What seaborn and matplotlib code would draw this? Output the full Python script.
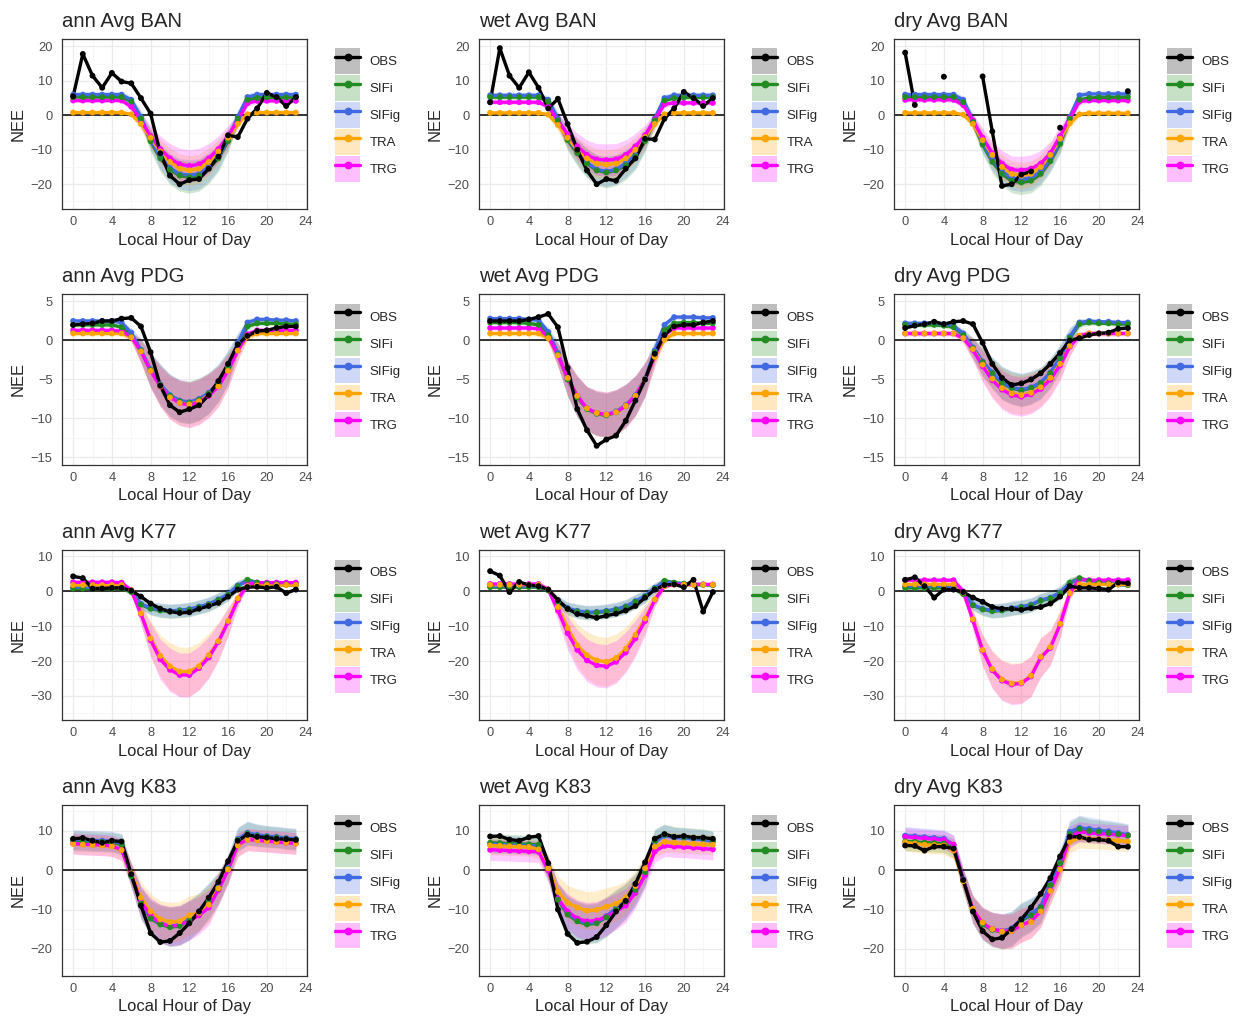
import numpy as np
import pandas as pd
import matplotlib
matplotlib.use("Agg")
import matplotlib.pyplot as plt
import seaborn as sns
from matplotlib.patches import Rectangle
from matplotlib.lines import Line2D
from matplotlib.legend_handler import HandlerTuple
from matplotlib.colors import to_rgba

nan = np.nan
HOURS = list(range(24))
SERIES = ["OBS", "SIFi", "SIFig", "TRA", "TRG"]
MODELS = ["SIFi", "SIFig", "TRA", "TRG"]
SEASONS = ["ann", "wet", "dry"]
SITES = ["BAN", "PDG", "K77", "K83"]
COLORS = {"OBS": "black", "SIFi": "#228B22", "SIFig": "#4169E1", "TRA": "#FFA500", "TRG": "#FF00FF"}
X_TICKS = [0, 4, 8, 12, 16, 20, 24]
Y_TICKS = {"BAN": [-20, -10, 0, 10, 20], "PDG": [-15, -10, -5, 0, 5],
           "K77": [-30, -20, -10, 0, 10], "K83": [-20, -10, 0, 10]}
Y_LIMS = {"BAN": (-27.2, 22.3), "PDG": (-15.9, 5.96), "K77": (-36.9, 12.0), "K83": (-26.8, 16.6)}

# ---------------- BAN ----------------
ann_BAN_OBS = [5.5, 17.8, 11.5, 8.0, 12.3, 9.8, 9.3, 5.0, 0.5, -11.0, -17.5, -20.0, -18.8, -18.5, -15.5, -12.0, -5.8, -6.3, -1.0, 2.0, 6.5, 5.3, 2.7, 5.3]
ann_BAN_SIFi = [5.3, 5.3, 5.3, 5.3, 5.3, 5.3, 4.0, -1.0, -7.5, -12.5, -15.8, -17.5, -18.0, -17.5, -15.5, -12.5, -7.5, -1.0, 4.5, 5.0, 5.2, 5.2, 5.2, 5.3]
ann_BAN_SIFig = [6.0, 6.0, 6.0, 6.0, 6.0, 6.0, 4.5, -0.5, -7.0, -12.0, -15.3, -17.0, -17.4, -17.0, -15.0, -12.0, -7.0, -0.5, 5.3, 6.0, 6.0, 6.0, 6.0, 6.0]
ann_BAN_TRA = [0.8, 0.8, 0.8, 0.8, 0.8, 0.8, 0.3, -2.5, -6.5, -10.5, -13.5, -15.5, -16.0, -15.5, -13.5, -10.5, -6.5, -2.5, 0.3, 0.8, 0.8, 0.8, 0.8, 0.8]
ann_BAN_TRG = [4.3, 4.3, 4.3, 4.3, 4.3, 4.3, 2.5, -1.5, -6.0, -9.8, -12.5, -14.2, -14.7, -14.2, -12.5, -9.8, -6.0, -1.5, 3.5, 4.2, 4.2, 4.2, 4.2, 4.2]
sd_ann_BAN_SIFi = [0.8, 0.8, 0.8, 0.8, 0.8, 0.8, 1.0, 2.0, 3.0, 3.8, 4.3, 4.5, 4.6, 4.5, 4.3, 3.8, 3.0, 2.0, 1.0, 0.8, 0.8, 0.8, 0.8, 0.8]
sd_ann_BAN_SIFig = [0.9, 0.9, 0.9, 0.9, 0.9, 0.9, 1.1, 2.0, 3.0, 3.7, 4.2, 4.4, 4.5, 4.4, 4.2, 3.7, 3.0, 2.0, 1.1, 0.9, 0.9, 0.9, 0.9, 0.9]
sd_ann_BAN_TRA = [0.4, 0.4, 0.4, 0.4, 0.4, 0.4, 0.6, 1.8, 2.8, 3.5, 4.0, 4.2, 4.3, 4.2, 4.0, 3.5, 2.8, 1.8, 0.6, 0.4, 0.4, 0.4, 0.4, 0.4]
sd_ann_BAN_TRG = [0.6, 0.6, 0.6, 0.6, 0.6, 0.6, 1.0, 2.0, 3.0, 3.8, 4.3, 4.6, 4.7, 4.6, 4.3, 3.8, 3.0, 2.0, 1.0, 0.6, 0.6, 0.6, 0.6, 0.6]

wet_BAN_OBS = [3.8, 19.5, 11.5, 8.0, 12.5, 8.0, 2.0, 4.8, -2.5, -10.0, -16.0, -20.0, -18.5, -19.0, -15.5, -12.5, -6.8, -7.0, -1.0, 2.0, 6.8, 5.0, 2.7, 5.0]
wet_BAN_SIFi = [5.3, 5.3, 5.3, 5.3, 5.3, 5.3, 4.0, -1.5, -7.2, -11.0, -14.0, -16.0, -16.6, -16.0, -14.5, -12.0, -7.5, -1.5, 4.3, 5.0, 5.2, 5.2, 5.2, 5.3]
wet_BAN_SIFig = [5.8, 5.8, 5.8, 5.8, 5.8, 5.8, 4.5, -1.0, -6.8, -10.5, -13.7, -15.7, -16.3, -15.7, -14.0, -11.5, -7.0, -1.0, 5.0, 5.8, 5.8, 5.8, 5.8, 5.8]
wet_BAN_TRA = [0.7, 0.7, 0.7, 0.7, 0.7, 0.7, 0.2, -2.8, -6.5, -10.0, -12.5, -14.0, -14.3, -14.0, -12.5, -10.0, -6.3, -2.5, 0.3, 0.7, 0.7, 0.7, 0.7, 0.7]
wet_BAN_TRG = [3.8, 3.8, 3.8, 3.8, 3.8, 3.8, 2.5, -1.5, -5.5, -9.0, -11.5, -12.8, -13.0, -12.8, -11.5, -9.0, -5.8, -1.2, 3.2, 3.6, 3.6, 3.6, 3.6, 3.6]
sd_wet_BAN_SIFi = [0.8, 0.8, 0.8, 0.8, 0.8, 0.8, 1.0, 2.0, 3.0, 3.8, 4.2, 4.4, 4.5, 4.4, 4.2, 3.8, 3.0, 2.0, 1.0, 0.8, 0.8, 0.8, 0.8, 0.8]
sd_wet_BAN_SIFig = [0.9, 0.9, 0.9, 0.9, 0.9, 0.9, 1.1, 2.0, 3.0, 3.7, 4.1, 4.3, 4.4, 4.3, 4.1, 3.7, 3.0, 2.0, 1.1, 0.9, 0.9, 0.9, 0.9, 0.9]
sd_wet_BAN_TRA = [0.4, 0.4, 0.4, 0.4, 0.4, 0.4, 0.6, 1.8, 2.8, 3.5, 4.0, 4.2, 4.3, 4.2, 4.0, 3.5, 2.8, 1.8, 0.6, 0.4, 0.4, 0.4, 0.4, 0.4]
sd_wet_BAN_TRG = [0.6, 0.6, 0.6, 0.6, 0.6, 0.6, 1.0, 2.0, 3.0, 3.8, 4.3, 4.6, 4.7, 4.6, 4.3, 3.8, 3.0, 2.0, 1.0, 0.6, 0.6, 0.6, 0.6, 0.6]

dry_BAN_OBS = [18.2, 3.0, nan, nan, 11.2, nan, nan, nan, 11.3, -4.7, -20.5, -20.0, -17.2, -16.3, nan, nan, -3.6, nan, nan, nan, nan, nan, nan, 7.0]
dry_BAN_SIFi = [5.3, 5.3, 5.3, 5.3, 5.3, 5.3, 3.8, -2.0, -8.5, -13.5, -17.0, -19.0, -19.5, -19.0, -17.0, -13.3, -8.3, -1.0, 4.5, 5.0, 5.2, 5.2, 5.2, 5.3]
dry_BAN_SIFig = [6.0, 6.0, 6.0, 6.0, 6.0, 6.0, 4.5, -1.5, -8.0, -12.8, -16.3, -18.2, -18.6, -18.2, -16.3, -12.8, -7.8, -0.5, 5.8, 6.2, 6.2, 6.2, 6.2, 6.2]
dry_BAN_TRA = [0.7, 0.7, 0.7, 0.7, 0.7, 0.7, 0.2, -2.5, -7.2, -11.5, -15.0, -17.0, -17.5, -17.0, -15.0, -11.5, -6.8, -2.3, 0.3, 0.6, 0.6, 0.6, 0.6, 0.6]
dry_BAN_TRG = [4.5, 4.5, 4.5, 4.5, 4.5, 4.5, 3.0, -1.5, -6.5, -11.0, -14.0, -15.8, -16.0, -15.5, -14.0, -11.0, -6.0, -0.8, 4.0, 4.3, 4.3, 4.3, 4.3, 4.3]
sd_dry_BAN_SIFi = [0.8, 0.8, 0.8, 0.8, 0.8, 0.8, 1.0, 2.0, 2.8, 3.2, 3.4, 3.5, 3.5, 3.5, 3.4, 3.2, 2.8, 2.0, 1.0, 0.8, 0.8, 0.8, 0.8, 0.8]
sd_dry_BAN_SIFig = [0.9, 0.9, 0.9, 0.9, 0.9, 0.9, 1.1, 2.0, 2.8, 3.2, 3.4, 3.5, 3.5, 3.5, 3.4, 3.2, 2.8, 2.0, 1.1, 0.9, 0.9, 0.9, 0.9, 0.9]
sd_dry_BAN_TRA = [0.4, 0.4, 0.4, 0.4, 0.4, 0.4, 0.6, 1.8, 2.7, 3.2, 3.5, 3.7, 3.8, 3.7, 3.5, 3.2, 2.7, 1.8, 0.6, 0.4, 0.4, 0.4, 0.4, 0.4]
sd_dry_BAN_TRG = [0.6, 0.6, 0.6, 0.6, 0.6, 0.6, 1.0, 2.0, 2.8, 3.4, 3.8, 4.0, 4.1, 4.0, 3.8, 3.4, 2.8, 2.0, 1.0, 0.6, 0.6, 0.6, 0.6, 0.6]

# ---------------- PDG ----------------
ann_PDG_OBS = [2.0, 2.1, 2.2, 2.5, 2.5, 2.8, 2.9, 1.8, -1.5, -5.8, -8.3, -9.2, -8.8, -8.3, -7.0, -5.2, -3.0, -0.5, 0.6, 1.2, 1.3, 1.6, 1.8, 1.8]
ann_PDG_SIFi = [2.0, 2.0, 2.0, 2.0, 2.0, 1.7, 0.5, -1.3, -3.8, -5.7, -7.1, -7.8, -8.0, -7.6, -6.8, -5.5, -3.5, -0.5, 1.8, 2.2, 2.2, 2.2, 2.1, 2.1]
ann_PDG_SIFig = [2.5, 2.5, 2.5, 2.5, 2.5, 2.3, 1.0, -1.2, -3.7, -5.6, -7.0, -7.7, -7.9, -7.5, -6.7, -5.4, -3.3, -0.3, 2.3, 2.7, 2.7, 2.6, 2.6, 2.5]
ann_PDG_TRA = [0.9, 0.9, 0.9, 0.9, 0.9, 0.9, 0.4, -1.4, -3.9, -5.9, -7.3, -8.0, -8.2, -7.8, -7.0, -5.9, -3.9, -1.3, 0.5, 0.9, 0.9, 0.9, 0.9, 0.9]
ann_PDG_TRG = [1.3, 1.3, 1.3, 1.3, 1.3, 1.2, 0.5, -1.4, -3.9, -5.9, -7.3, -8.0, -8.3, -7.9, -7.1, -5.9, -3.9, -1.3, 0.8, 1.3, 1.3, 1.3, 1.3, 1.3]
sd_ann_PDG_SIFi = [0.3, 0.3, 0.3, 0.3, 0.3, 0.3, 0.6, 1.5, 2.2, 2.6, 2.7, 2.7, 2.7, 2.7, 2.6, 2.4, 2.1, 1.3, 0.5, 0.3, 0.3, 0.3, 0.3, 0.3]
sd_ann_PDG_SIFig = [0.3, 0.3, 0.3, 0.3, 0.3, 0.3, 0.6, 1.5, 2.2, 2.6, 2.7, 2.7, 2.7, 2.7, 2.6, 2.4, 2.1, 1.3, 0.5, 0.3, 0.3, 0.3, 0.3, 0.3]
sd_ann_PDG_TRA = [0.3, 0.3, 0.3, 0.3, 0.3, 0.3, 0.6, 1.5, 2.2, 2.6, 2.8, 2.9, 2.9, 2.9, 2.8, 2.6, 2.2, 1.3, 0.5, 0.3, 0.3, 0.3, 0.3, 0.3]
sd_ann_PDG_TRG = [0.3, 0.3, 0.3, 0.3, 0.3, 0.3, 0.6, 1.5, 2.2, 2.6, 2.8, 2.9, 2.9, 2.9, 2.8, 2.6, 2.2, 1.3, 0.5, 0.3, 0.3, 0.3, 0.3, 0.3]

wet_PDG_OBS = [2.5, 2.5, 2.5, 2.5, 2.7, 3.0, 3.4, 1.7, -3.5, -8.8, -11.5, -13.5, -12.7, -12.2, -10.3, -7.7, -5.0, -1.7, 0.7, 1.8, 2.0, 2.0, 2.3, 2.5]
wet_PDG_SIFi = [2.3, 2.3, 2.3, 2.3, 2.2, 2.0, 0.7, -1.8, -5.0, -7.3, -8.8, -9.4, -9.6, -9.2, -8.4, -7.1, -5.0, -1.5, 1.3, 2.2, 2.3, 2.3, 2.2, 2.2]
wet_PDG_SIFig = [2.8, 2.8, 2.8, 2.8, 2.7, 2.6, 1.1, -1.6, -4.9, -7.2, -8.7, -9.3, -9.5, -9.1, -8.3, -7.0, -4.9, -1.3, 2.0, 3.0, 3.0, 3.0, 2.9, 2.9]
wet_PDG_TRA = [0.9, 0.9, 0.9, 0.9, 0.9, 0.9, 0.3, -1.9, -4.8, -7.1, -8.7, -9.3, -9.5, -9.2, -8.4, -7.1, -5.0, -2.1, 0.1, 0.9, 0.9, 0.9, 0.9, 0.9]
wet_PDG_TRG = [1.6, 1.6, 1.6, 1.6, 1.6, 1.5, 0.5, -1.9, -4.8, -7.1, -8.7, -9.3, -9.5, -9.2, -8.4, -7.1, -5.0, -2.0, 0.7, 1.6, 1.6, 1.6, 1.6, 1.6]
sd_wet_PDG_SIFi = [0.3, 0.3, 0.3, 0.3, 0.3, 0.3, 0.6, 1.5, 2.2, 2.6, 2.8, 2.8, 2.8, 2.8, 2.7, 2.5, 2.1, 1.3, 0.5, 0.3, 0.3, 0.3, 0.3, 0.3]
sd_wet_PDG_SIFig = [0.3, 0.3, 0.3, 0.3, 0.3, 0.3, 0.6, 1.5, 2.2, 2.6, 2.8, 2.8, 2.8, 2.8, 2.7, 2.5, 2.1, 1.3, 0.5, 0.3, 0.3, 0.3, 0.3, 0.3]
sd_wet_PDG_TRA = [0.3, 0.3, 0.3, 0.3, 0.3, 0.3, 0.6, 1.5, 2.2, 2.6, 2.8, 2.9, 2.9, 2.9, 2.8, 2.6, 2.2, 1.3, 0.5, 0.3, 0.3, 0.3, 0.3, 0.3]
sd_wet_PDG_TRG = [0.3, 0.3, 0.3, 0.3, 0.3, 0.3, 0.6, 1.5, 2.2, 2.6, 2.8, 2.9, 2.9, 2.9, 2.8, 2.6, 2.2, 1.3, 0.5, 0.3, 0.3, 0.3, 0.3, 0.3]

dry_PDG_OBS = [1.6, 1.9, 2.1, 2.4, 2.1, 2.4, 2.5, 2.1, -0.3, -3.0, -4.8, -5.7, -5.5, -5.0, -4.2, -3.0, -1.6, 0.0, 0.3, 0.7, 0.9, 1.0, 1.5, 1.6]
dry_PDG_SIFi = [2.0, 2.0, 2.0, 2.0, 1.9, 1.7, 0.7, -1.0, -2.8, -4.2, -5.5, -6.1, -6.4, -6.1, -5.5, -4.2, -2.3, 0.3, 2.1, 2.3, 2.2, 2.2, 2.1, 2.1]
dry_PDG_SIFig = [2.2, 2.2, 2.2, 2.2, 2.1, 1.9, 0.9, -0.9, -2.7, -4.1, -5.4, -6.0, -6.3, -6.0, -5.4, -4.1, -2.2, 0.5, 2.3, 2.5, 2.4, 2.4, 2.3, 2.3]
dry_PDG_TRA = [0.9, 0.9, 0.9, 0.9, 0.9, 0.9, 0.3, -1.1, -3.1, -4.9, -6.1, -6.8, -7.0, -6.7, -6.0, -4.8, -3.0, -0.7, 0.6, 0.9, 0.9, 0.9, 0.9, 0.9]
dry_PDG_TRG = [0.9, 0.9, 0.9, 0.9, 0.9, 0.9, 0.3, -1.2, -3.3, -5.1, -6.3, -7.0, -7.2, -6.9, -6.2, -5.0, -3.2, -0.8, 0.6, 0.9, 0.9, 0.9, 0.9, 0.9]
sd_dry_PDG_SIFi = [0.3, 0.3, 0.3, 0.3, 0.3, 0.3, 0.6, 1.3, 1.8, 2.0, 2.1, 2.1, 2.1, 2.1, 2.0, 1.9, 1.7, 1.2, 0.5, 0.3, 0.3, 0.3, 0.3, 0.3]
sd_dry_PDG_SIFig = [0.3, 0.3, 0.3, 0.3, 0.3, 0.3, 0.6, 1.3, 1.8, 2.0, 2.1, 2.1, 2.1, 2.1, 2.0, 1.9, 1.7, 1.2, 0.5, 0.3, 0.3, 0.3, 0.3, 0.3]
sd_dry_PDG_TRA = [0.3, 0.3, 0.3, 0.3, 0.3, 0.3, 0.6, 1.4, 2.0, 2.3, 2.5, 2.5, 2.5, 2.5, 2.4, 2.2, 1.9, 1.2, 0.5, 0.3, 0.3, 0.3, 0.3, 0.3]
sd_dry_PDG_TRG = [0.3, 0.3, 0.3, 0.3, 0.3, 0.3, 0.6, 1.4, 2.0, 2.3, 2.5, 2.5, 2.5, 2.5, 2.4, 2.2, 1.9, 1.2, 0.5, 0.3, 0.3, 0.3, 0.3, 0.3]

# ---------------- K77 ----------------
ann_K77_OBS = [4.3, 3.8, 0.8, 0.8, 1.0, 1.0, 0.2, -1.5, -3.5, -5.0, -5.8, -6.2, -6.0, -5.0, -4.2, -3.3, -1.5, 0.5, 1.2, 1.3, 1.0, 1.3, -0.5, 0.5]
ann_K77_SIFi = [0.8, 0.8, 0.8, 0.8, 0.8, 0.8, -0.2, -3.8, -5.0, -5.5, -5.8, -5.6, -5.3, -4.6, -3.8, -2.5, -1.0, 1.5, 3.3, 2.5, 2.2, 2.0, 1.9, 1.8]
ann_K77_SIFig = [1.2, 1.2, 1.2, 1.2, 1.2, 1.2, 0.0, -3.6, -4.8, -5.3, -5.6, -5.4, -5.1, -4.4, -3.6, -2.3, -0.8, 1.7, 3.0, 2.4, 2.1, 2.0, 1.9, 1.8]
ann_K77_TRA = [1.8, 1.8, 1.8, 1.8, 1.8, 1.8, 0.3, -6.3, -13.5, -18.5, -21.5, -23.0, -23.0, -21.5, -18.3, -14.3, -8.5, -2.0, 1.5, 1.7, 1.8, 1.8, 1.8, 1.8]
ann_K77_TRG = [2.6, 2.6, 2.6, 2.6, 2.6, 2.5, 0.3, -6.5, -14.0, -19.5, -22.5, -24.0, -24.0, -22.0, -19.0, -14.5, -8.8, -2.5, 2.0, 2.5, 2.5, 2.5, 2.5, 2.5]
sd_ann_K77_SIFi = [0.5, 0.5, 0.5, 0.5, 0.5, 0.5, 0.8, 1.5, 1.8, 2.0, 2.0, 2.0, 2.0, 2.0, 2.0, 2.0, 1.8, 1.5, 1.0, 0.5, 0.5, 0.5, 0.5, 0.5]
sd_ann_K77_SIFig = [0.5, 0.5, 0.5, 0.5, 0.5, 0.5, 0.8, 1.5, 1.8, 2.0, 2.0, 2.0, 2.0, 2.0, 2.0, 2.0, 1.8, 1.5, 1.0, 0.5, 0.5, 0.5, 0.5, 0.5]
sd_ann_K77_TRA = [0.4, 0.4, 0.4, 0.4, 0.4, 0.4, 1.0, 3.0, 5.0, 6.0, 6.7, 7.0, 7.0, 6.8, 6.3, 5.5, 4.0, 2.0, 0.5, 0.4, 0.4, 0.4, 0.4, 0.4]
sd_ann_K77_TRG = [0.5, 0.5, 0.5, 0.5, 0.5, 0.5, 1.0, 3.0, 4.8, 5.8, 6.2, 6.3, 6.3, 6.2, 6.0, 5.3, 4.0, 2.0, 0.6, 0.5, 0.5, 0.5, 0.5, 0.5]

wet_K77_OBS = [5.8, 4.5, -0.2, 2.7, 1.8, 1.5, 0.5, -2.5, -5.0, -6.5, -7.0, -7.6, -7.0, -6.4, -5.5, -4.2, -1.8, 0.5, 1.8, 2.0, 1.2, 3.3, -5.8, -0.2]
wet_K77_SIFi = [1.2, 1.2, 1.2, 1.2, 1.2, 1.2, 0.3, -3.0, -5.0, -5.8, -6.2, -6.1, -5.8, -5.3, -4.5, -3.0, -1.5, 0.8, 3.0, 2.5, 2.2, 2.0, 1.9, 1.8]
wet_K77_SIFig = [1.4, 1.4, 1.4, 1.4, 1.4, 1.4, 0.4, -2.8, -4.8, -5.6, -6.0, -5.9, -5.6, -5.1, -4.3, -2.8, -1.3, 1.0, 2.8, 2.4, 2.1, 2.0, 1.9, 1.8]
wet_K77_TRA = [1.9, 1.9, 1.9, 1.9, 1.9, 1.9, 0.5, -4.5, -10.5, -15.5, -18.3, -19.8, -20.2, -19.1, -16.5, -12.5, -7.8, -2.3, 1.5, 1.9, 1.9, 1.9, 1.9, 1.9]
wet_K77_TRG = [2.1, 2.1, 2.1, 2.1, 2.1, 2.1, 0.5, -5.5, -12.0, -16.8, -19.8, -21.2, -21.5, -20.2, -17.5, -13.5, -8.5, -2.5, 1.5, 2.0, 2.0, 2.0, 2.0, 2.0]
sd_wet_K77_SIFi = [0.5, 0.5, 0.5, 0.5, 0.5, 0.5, 0.8, 1.5, 1.8, 2.0, 2.0, 2.0, 2.0, 2.0, 2.0, 2.0, 1.8, 1.5, 1.0, 0.5, 0.5, 0.5, 0.5, 0.5]
sd_wet_K77_SIFig = [0.5, 0.5, 0.5, 0.5, 0.5, 0.5, 0.8, 1.5, 1.8, 2.0, 2.0, 2.0, 2.0, 2.0, 2.0, 2.0, 1.8, 1.5, 1.0, 0.5, 0.5, 0.5, 0.5, 0.5]
sd_wet_K77_TRA = [0.4, 0.4, 0.4, 0.4, 0.4, 0.4, 1.0, 3.0, 5.0, 6.0, 6.7, 7.0, 7.0, 6.8, 6.3, 5.5, 4.0, 2.0, 0.5, 0.4, 0.4, 0.4, 0.4, 0.4]
sd_wet_K77_TRG = [0.5, 0.5, 0.5, 0.5, 0.5, 0.5, 1.0, 3.0, 4.8, 5.7, 6.1, 6.2, 6.2, 6.1, 5.8, 5.2, 4.0, 2.0, 0.6, 0.5, 0.5, 0.5, 0.5, 0.5]

dry_K77_OBS = [3.3, 4.0, 1.5, -1.8, 0.5, 0.5, -0.2, -1.8, -3.0, -4.5, -5.0, -5.0, -5.3, -4.8, -4.5, -3.5, -1.5, 1.5, 1.0, 1.0, 0.8, 0.5, 2.5, 2.3]
dry_K77_SIFi = [1.0, 1.0, 1.0, 1.0, 1.0, 0.8, -0.8, -4.0, -5.2, -5.7, -5.5, -5.0, -4.6, -4.0, -2.7, -2.0, -0.5, 2.5, 3.8, 3.0, 2.5, 2.3, 2.0, 1.8]
dry_K77_SIFig = [1.5, 1.5, 1.5, 1.5, 1.5, 1.3, -0.5, -3.8, -5.0, -5.5, -5.3, -4.8, -4.4, -3.8, -2.5, -1.8, -0.3, 2.3, 3.6, 2.9, 2.5, 2.3, 2.0, 1.8]
dry_K77_TRA = [2.0, 2.0, 2.0, 2.0, 2.0, 2.0, -0.3, -8.0, -16.8, -22.3, -25.3, -26.4, -26.2, -24.2, -18.8, -16.0, -9.3, -0.5, 2.0, 2.0, 2.0, 2.0, 2.0, 2.0]
dry_K77_TRG = [3.2, 3.2, 3.2, 3.2, 3.2, 3.2, 0.0, -8.3, -17.0, -22.6, -25.6, -26.7, -26.4, -24.4, -19.0, -16.2, -9.5, -0.5, 3.5, 3.2, 3.2, 3.2, 3.2, 3.2]
sd_dry_K77_SIFi = [0.5, 0.5, 0.5, 0.5, 0.5, 0.5, 0.8, 1.5, 1.8, 2.0, 2.0, 2.0, 2.0, 2.0, 2.0, 2.0, 1.8, 1.5, 1.0, 0.5, 0.5, 0.5, 0.5, 0.5]
sd_dry_K77_SIFig = [0.5, 0.5, 0.5, 0.5, 0.5, 0.5, 0.8, 1.5, 1.8, 2.0, 2.0, 2.0, 2.0, 2.0, 2.0, 2.0, 1.8, 1.5, 1.0, 0.5, 0.5, 0.5, 0.5, 0.5]
sd_dry_K77_TRA = [0.4, 0.4, 0.4, 0.4, 0.4, 0.4, 1.0, 2.8, 4.5, 5.3, 5.7, 5.8, 5.8, 5.8, 5.6, 5.0, 3.8, 1.8, 0.5, 0.4, 0.4, 0.4, 0.4, 0.4]
sd_dry_K77_TRG = [0.5, 0.5, 0.5, 0.5, 0.5, 0.5, 1.0, 2.8, 4.5, 5.3, 5.7, 5.8, 5.8, 5.8, 5.6, 5.0, 3.8, 1.8, 0.6, 0.5, 0.5, 0.5, 0.5, 0.5]

# ---------------- K83 ----------------
ann_K83_OBS = [8.0, 8.2, 7.5, 7.0, 7.5, 7.3, -1.0, -9.0, -16.0, -18.3, -18.0, -16.0, -13.5, -10.5, -7.0, -3.0, 2.3, 7.5, 9.0, 8.5, 8.3, 8.0, 7.9, 7.7]
ann_K83_SIFi = [7.5, 7.4, 7.3, 7.2, 7.1, 6.5, -1.5, -8.5, -12.3, -13.8, -14.5, -14.2, -12.8, -10.8, -8.0, -4.7, 0.3, 7.7, 9.3, 8.8, 8.5, 8.3, 8.0, 7.8]
ann_K83_SIFig = [7.8, 7.7, 7.6, 7.5, 7.4, 6.8, -1.3, -8.3, -12.0, -13.5, -14.2, -13.9, -12.5, -10.5, -7.7, -4.4, 0.6, 7.9, 9.5, 9.0, 8.7, 8.5, 8.2, 8.0]
ann_K83_TRA = [6.7, 6.5, 6.4, 6.3, 6.1, 5.1, -0.8, -7.0, -10.5, -12.5, -13.2, -13.0, -11.5, -10.8, -8.8, -4.6, 0.2, 6.3, 7.8, 7.6, 7.4, 7.2, 7.0, 6.8]
ann_K83_TRG = [6.8, 6.6, 6.5, 6.4, 6.2, 5.2, -1.2, -8.0, -11.5, -13.5, -14.3, -14.0, -12.8, -11.5, -9.5, -5.0, 0.0, 6.5, 7.8, 7.6, 7.4, 7.2, 7.0, 6.8]
sd_ann_K83_SIFi = [2.5, 2.5, 2.5, 2.5, 2.5, 2.6, 3.0, 4.0, 4.5, 4.8, 5.0, 5.0, 5.0, 4.8, 4.5, 4.0, 3.5, 3.0, 3.0, 2.8, 2.7, 2.7, 2.7, 2.7]
sd_ann_K83_SIFig = [2.5, 2.5, 2.5, 2.5, 2.5, 2.6, 3.0, 4.0, 4.5, 4.8, 5.0, 5.0, 5.0, 4.8, 4.5, 4.0, 3.5, 3.0, 3.0, 2.8, 2.7, 2.7, 2.7, 2.7]
sd_ann_K83_TRA = [2.5, 2.5, 2.5, 2.5, 2.5, 2.6, 3.0, 4.0, 4.5, 4.8, 5.0, 5.0, 5.0, 4.8, 4.5, 4.0, 3.5, 3.0, 2.8, 2.7, 2.7, 2.7, 2.7, 2.7]
sd_ann_K83_TRG = [2.7, 2.7, 2.7, 2.7, 2.7, 2.7, 3.0, 4.0, 4.5, 4.8, 5.0, 5.0, 5.0, 4.8, 4.5, 4.0, 3.5, 3.0, 2.8, 2.8, 2.8, 2.8, 2.8, 2.8]

wet_K83_OBS = [8.6, 8.7, 7.8, 7.5, 8.4, 8.7, 1.8, -10.0, -16.2, -18.5, -18.2, -17.0, -14.0, -10.5, -7.8, -3.5, 2.0, 8.0, 9.2, 8.5, 8.7, 8.3, 8.3, 8.0]
wet_K83_SIFi = [7.0, 6.9, 6.8, 6.7, 6.6, 6.5, 0.5, -7.5, -11.3, -13.0, -13.8, -13.5, -12.0, -10.0, -8.0, -5.0, -0.5, 7.5, 9.0, 8.5, 8.4, 8.2, 8.0, 7.5]
wet_K83_SIFig = [6.7, 6.6, 6.5, 6.4, 6.3, 6.2, 0.3, -7.3, -11.0, -12.7, -13.5, -13.2, -11.7, -9.7, -7.7, -4.7, -0.2, 7.2, 8.8, 8.3, 8.2, 8.0, 7.8, 7.3]
wet_K83_TRA = [6.3, 6.2, 6.1, 6.0, 5.9, 5.3, 0.5, -5.5, -8.3, -9.5, -10.3, -10.1, -9.3, -8.5, -7.0, -4.0, 0.5, 6.0, 7.2, 7.0, 6.9, 6.7, 6.6, 6.5]
wet_K83_TRG = [5.2, 5.1, 5.0, 4.9, 4.8, 4.7, 0.0, -7.3, -10.5, -12.3, -13.0, -12.8, -11.8, -10.5, -9.0, -5.8, -1.3, 4.8, 6.2, 6.0, 5.9, 5.7, 5.5, 5.3]
sd_wet_K83_SIFi = [2.3, 2.3, 2.3, 2.3, 2.3, 2.4, 3.0, 4.0, 4.6, 4.9, 5.0, 5.0, 5.0, 4.8, 4.5, 4.0, 3.5, 3.0, 2.8, 2.6, 2.5, 2.5, 2.5, 2.5]
sd_wet_K83_SIFig = [2.3, 2.3, 2.3, 2.3, 2.3, 2.4, 3.0, 4.0, 4.6, 4.9, 5.0, 5.0, 5.0, 4.8, 4.5, 4.0, 3.5, 3.0, 2.8, 2.6, 2.5, 2.5, 2.5, 2.5]
sd_wet_K83_TRA = [2.3, 2.3, 2.3, 2.3, 2.3, 2.4, 3.0, 4.0, 4.5, 4.7, 4.8, 4.8, 4.8, 4.6, 4.3, 3.8, 3.3, 2.8, 2.6, 2.5, 2.5, 2.5, 2.5, 2.5]
sd_wet_K83_TRG = [2.7, 2.7, 2.7, 2.7, 2.7, 2.7, 3.0, 4.0, 4.5, 4.7, 4.8, 4.8, 4.8, 4.6, 4.3, 3.8, 3.3, 2.8, 2.7, 2.7, 2.7, 2.7, 2.7, 2.7]

dry_K83_OBS = [6.3, 6.2, 5.0, 6.0, 6.0, 5.5, -2.5, -10.5, -15.5, -17.6, -17.2, -15.0, -12.5, -9.5, -6.0, -2.0, 3.5, 8.5, 8.5, 7.8, 7.8, 7.5, 6.0, 6.0]
dry_K83_SIFi = [7.3, 7.2, 7.0, 6.9, 6.8, 5.5, -2.7, -10.3, -13.8, -15.2, -15.7, -15.0, -12.8, -11.5, -9.5, -3.8, 1.8, 9.2, 10.5, 10.0, 9.8, 9.5, 9.2, 8.8]
dry_K83_SIFig = [8.8, 8.6, 8.4, 8.2, 8.0, 6.5, -2.3, -10.0, -13.5, -15.0, -15.5, -14.8, -12.5, -11.2, -9.2, -3.5, 2.0, 9.8, 10.8, 10.5, 10.2, 9.9, 9.5, 9.0]
dry_K83_TRA = [7.1, 6.8, 6.5, 6.4, 6.3, 5.0, -2.8, -9.8, -13.3, -15.0, -15.6, -15.5, -14.0, -13.2, -10.5, -5.3, 0.2, 7.2, 8.3, 8.0, 7.9, 7.7, 7.5, 7.3]
dry_K83_TRG = [8.5, 8.3, 8.1, 7.9, 7.7, 6.5, -2.5, -10.0, -13.5, -15.0, -15.5, -15.5, -14.0, -13.0, -10.5, -5.0, 0.5, 8.5, 9.8, 9.5, 9.3, 9.2, 9.0, 8.8]
sd_dry_K83_SIFi = [2.3, 2.3, 2.3, 2.3, 2.3, 2.4, 2.8, 3.5, 4.0, 4.3, 4.4, 4.4, 4.3, 4.2, 4.0, 3.5, 3.2, 3.0, 3.2, 3.0, 2.9, 2.8, 2.8, 2.8]
sd_dry_K83_SIFig = [2.3, 2.3, 2.3, 2.3, 2.3, 2.4, 2.8, 3.5, 4.0, 4.3, 4.4, 4.4, 4.3, 4.2, 4.0, 3.5, 3.2, 3.0, 3.2, 3.0, 2.9, 2.8, 2.8, 2.8]
sd_dry_K83_TRA = [2.2, 2.2, 2.2, 2.2, 2.2, 2.3, 2.8, 3.5, 4.0, 4.3, 4.4, 4.4, 4.3, 4.2, 4.0, 3.5, 3.2, 2.8, 2.6, 2.5, 2.5, 2.5, 2.5, 2.5]
sd_dry_K83_TRG = [2.3, 2.3, 2.3, 2.3, 2.3, 2.4, 2.8, 3.5, 4.0, 4.3, 4.4, 4.4, 4.3, 4.2, 4.0, 3.5, 3.2, 2.8, 2.6, 2.5, 2.5, 2.5, 2.5, 2.5]

# ---------------- style ----------------
sns.set_style("white")
plt.rcParams["font.family"] = ["Liberation Sans", "DejaVu Sans"]

W, H = 1244, 1019
COL_LEFT = [62, 479, 894]
ROW_TOP = [38.5, 294, 549.5, 805]
AX_W, AX_H = 245, 170.5
LINE_ORDER = ["SIFi", "SIFig", "TRA", "TRG", "OBS"]
POINT_ORDER = ["SIFig", "TRG", "SIFi", "TRA", "OBS"]
TICK_FS, LAB_FS, LEG_FS, TITLE_FS = 9.3, 11.9, 9.5, 14.6

fig = plt.figure(figsize=(W / 100, H / 100), dpi=100)
g = globals()

for ri, site in enumerate(SITES):
    for ci, season in enumerate(SEASONS):
        left, top = COL_LEFT[ci], ROW_TOP[ri]
        ax = fig.add_axes([left / W, 1 - (top + AX_H) / H, AX_W / W, AX_H / H])

        rows = []
        for s in SERIES:
            vals = g[f"{season}_{site}_{s}"]
            seg = 0
            for h, v in zip(HOURS, vals):
                if np.isnan(v):
                    seg += 1
                    continue
                rows.append({"hour": h, "NEE": v, "series": s, "seg": f"{s}{seg}"})
        df = pd.DataFrame(rows)

        # ribbons
        for s in MODELS:
            m = np.array(g[f"{season}_{site}_{s}"])
            sd = np.array(g[f"sd_{season}_{site}_{s}"])
            ax.fill_between(HOURS, m - sd, m + sd, color=COLORS[s], alpha=0.2, lw=0, zorder=1)

        ax.axhline(0, color="black", lw=1.1, zorder=1.5)

        sns.lineplot(data=df, x="hour", y="NEE", hue="series", hue_order=LINE_ORDER,
                     palette=COLORS, units="seg", estimator=None, lw=2.4,
                     legend=False, ax=ax, zorder=2)
        dpts = pd.concat([df[df.series == s] for s in POINT_ORDER])
        sns.scatterplot(data=dpts, x="hour", y="NEE", hue="series", palette=COLORS,
                        s=18, edgecolor="none", linewidth=0, legend=False, ax=ax, zorder=3)

        ax.set_xlim(-1.15, 24.15)
        ax.set_ylim(*Y_LIMS[site])
        ax.set_xticks(X_TICKS)
        yt = Y_TICKS[site]
        ax.set_yticks(yt)
        step = yt[1] - yt[0]
        ymin = [yt[0] - step / 2] + [v + step / 2 for v in yt]
        ax.set_yticks([v for v in ymin if Y_LIMS[site][0] < v < Y_LIMS[site][1]], minor=True)
        ax.set_xticks([2, 6, 10, 14, 18, 22], minor=True)
        ax.grid(which="major", color="#EBEBEB", lw=0.9)
        ax.grid(which="minor", color="#F4F4F4", lw=0.5)
        ax.set_axisbelow(True)
        ax.tick_params(which="major", direction="out", length=3.0, width=0.7,
                       color="#333333", labelcolor="#4D4D4D", labelsize=TICK_FS)
        ax.tick_params(axis="y", pad=3.8)
        ax.tick_params(axis="x", pad=2.3)
        ax.tick_params(which="minor", length=0)
        for sp in ax.spines.values():
            sp.set_color("#333333")
            sp.set_linewidth(0.9)
        ax.set_xlabel("Local Hour of Day", fontsize=LAB_FS, labelpad=3.2)
        ax.set_ylabel("NEE", fontsize=LAB_FS, labelpad=3.4)
        ax.set_title(f"{season} Avg {site}", loc="left", fontsize=TITLE_FS, pad=8.4)

        handles = []
        for s in SERIES:
            fill = to_rgba(COLORS[s], 0.25)
            patch = Rectangle((0, 0), 1, 1, facecolor=fill, edgecolor="none")
            line = Line2D([], [], color=COLORS[s], lw=2.4, marker="o", ms=4.6)
            handles.append((patch, line))
        lx = (left + AX_W + 28) / W
        ly = 1 - (top + 10) / H
        ax.legend(handles, SERIES, handler_map={tuple: HandlerTuple(ndivide=1, pad=0)},
                  loc="upper left", bbox_to_anchor=(lx, ly), bbox_transform=fig.transFigure,
                  frameon=False, borderpad=0, borderaxespad=0, fontsize=LEG_FS,
                  handlelength=1.9, handleheight=2.54, labelspacing=0.15,
                  handletextpad=0.7, numpoints=1)

fig.savefig("out.png", dpi=100)
